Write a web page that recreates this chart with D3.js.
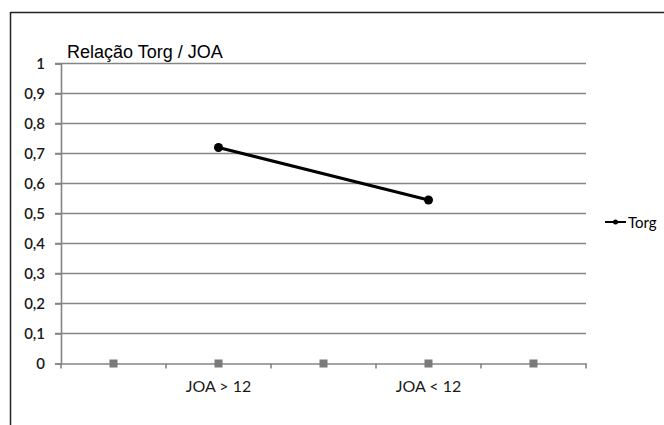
<!DOCTYPE html>
<html><head><meta charset="utf-8">
<script src="https://cdn.jsdelivr.net/npm/d3@7"></script>
<style>body{margin:0;background:#fff}svg{display:block}</style>
</head><body>
<script>
const categories = ["c1", "JOA > 12", "c3", "JOA < 12", "c5"];
const categoryLabels = ["", "JOA > 12", "", "JOA < 12", ""];
const torgValues = [null, 0.72, null, 0.545, null];
const zeroSeries = [0, 0, 0, 0, 0];
const yTicks = [0, 0.1, 0.2, 0.3, 0.4, 0.5, 0.6, 0.7, 0.8, 0.9, 1];
const seriesName = "Torg";
const title = "Relação Torg / JOA";

const W = 664, H = 425;
const svg = d3.select("body").append("svg").attr("width", W).attr("height", H);

// outer border (top & left visible)
svg.append("line").attr("x1", 10.5).attr("x2", W).attr("y1", 12.5).attr("y2", 12.5).attr("stroke", "#222").attr("stroke-width", 1.5);
svg.append("line").attr("x1", 10.5).attr("x2", 10.5).attr("y1", 12).attr("y2", H).attr("stroke", "#222").attr("stroke-width", 1.5);

const x = d3.scaleBand().domain(categories).range([61, 586]);
const y = d3.scaleLinear().domain([0, 1]).range([363.5, 63.5]);
const fmt = v => d3.format("~g")(v).replace(".", ",");
const labelFont = "Lato, 'Open Sans', sans-serif";

// gridlines
svg.append("g").selectAll("line").data(yTicks.filter(d => d > 0)).join("line")
  .attr("x1", 55).attr("x2", 586).attr("y1", d => y(d)).attr("y2", d => y(d))
  .attr("stroke", "#858585").attr("stroke-width", 1.6);

// y axis
const yAxis = svg.append("g").attr("transform", "translate(61,0)")
  .call(d3.axisLeft(y).tickValues(yTicks).tickFormat(fmt).tickSize(6).tickPadding(10));
yAxis.select(".domain").attr("stroke", "#858585").attr("stroke-width", 1.6);
yAxis.selectAll(".tick line").attr("stroke", "#858585").attr("stroke-width", 1.6);
yAxis.selectAll("text").attr("font-family", labelFont).attr("font-size", 15).attr("font-weight", 600).attr("fill", "#1a1a1a");

// x axis
const xAxis = svg.append("g").attr("transform", `translate(0,${y(0)})`)
  .call(d3.axisBottom(x).tickSize(0).tickFormat((d, i) => categoryLabels[i]).tickPadding(17));
xAxis.select(".domain").attr("stroke", "#858585").attr("stroke-width", 1.6);
xAxis.selectAll("text").attr("font-family", labelFont).attr("font-size", 16).attr("fill", "#1a1a1a");
// category boundary ticks
const bounds = categories.map(c => x(c)).concat([x.range()[1]]);
svg.append("g").selectAll("line").data(bounds).join("line")
  .attr("x1", d => d).attr("x2", d => d).attr("y1", y(0)).attr("y2", y(0) + 5)
  .attr("stroke", "#858585").attr("stroke-width", 1.6);

// zero series squares
svg.append("g").selectAll("rect").data(zeroSeries).join("rect")
  .attr("x", (d, i) => x(categories[i]) + x.bandwidth() / 2 - 4)
  .attr("y", d => y(d) - 4).attr("width", 8).attr("height", 8).attr("fill", "#7a7a7a");

// Torg line
const pts = torgValues.map((v, i) => ({ c: categories[i], v })).filter(d => d.v != null);
svg.append("path").datum(pts)
  .attr("d", d3.line().x(d => x(d.c) + x.bandwidth() / 2).y(d => y(d.v)))
  .attr("fill", "none").attr("stroke", "#000").attr("stroke-width", 3);
svg.append("g").selectAll("circle").data(pts).join("circle")
  .attr("cx", d => x(d.c) + x.bandwidth() / 2).attr("cy", d => y(d.v)).attr("r", 4.5).attr("fill", "#000");

// title
svg.append("text").attr("x", 67).attr("y", 58).text(title)
  .attr("font-family", "'Liberation Sans', Arial, sans-serif").attr("font-size", 18).attr("fill", "#000");

// legend
const lg = svg.append("g").attr("transform", "translate(605,222)");
lg.append("line").attr("x1", 0).attr("x2", 21).attr("y1", 0).attr("y2", 0).attr("stroke", "#000").attr("stroke-width", 2);
lg.append("circle").attr("cx", 10.5).attr("cy", 0).attr("r", 2.5).attr("fill", "#000");
lg.append("text").attr("x", 23).attr("y", 5.5).text(seriesName)
  .attr("font-family", labelFont).attr("font-size", 15).attr("fill", "#000");
</script>
</body></html>
